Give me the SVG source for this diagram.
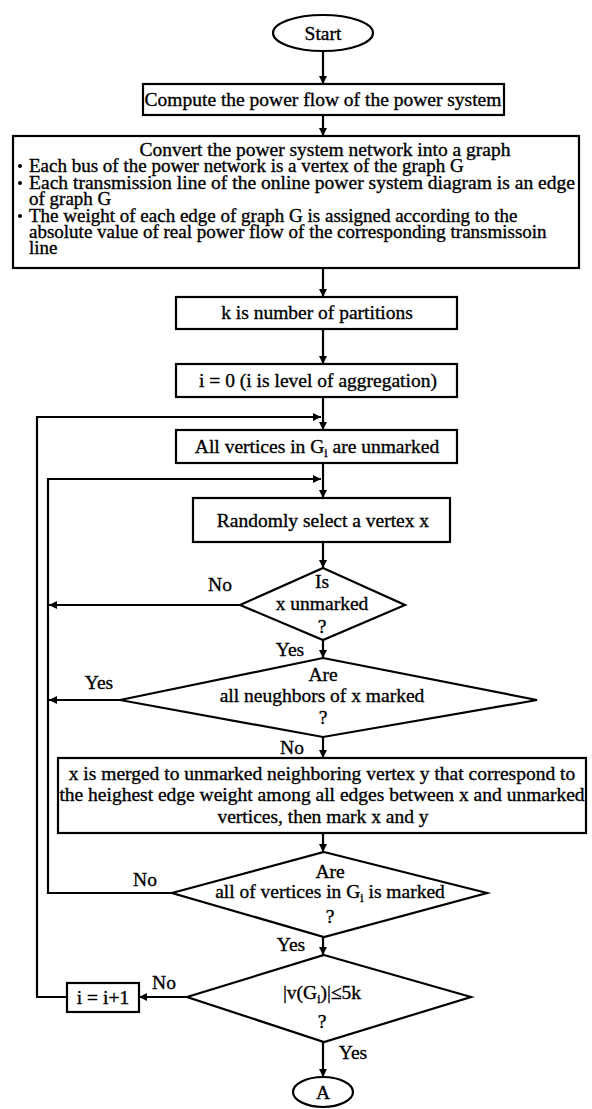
<svg xmlns="http://www.w3.org/2000/svg" width="592" height="1109" viewBox="0 0 592 1109">
<style>
text{font-family:"Liberation Serif","Times New Roman",serif;font-size:19.5px;fill:#000;stroke:#000;stroke-width:0.35}
.c{text-anchor:middle}
.sh{fill:#fff;stroke:#000;stroke-width:2.2}
.ln{fill:none;stroke:#000;stroke-width:2.2}
.sub{font-size:12px}
.bl{font-size:19px}
</style>
<defs>
<marker id="ah" viewBox="0 0 10 10" refX="10" refY="5" markerWidth="9" markerHeight="8" orient="auto" markerUnits="userSpaceOnUse">
<path d="M0,0 L10,5 L0,10 z" fill="#000"/>
</marker>
</defs>
<rect width="592" height="1109" fill="#fff"/>
<g id="connectors">
<path class="ln" marker-end="url(#ah)" d="M323,51 V84"/>
<path class="ln" marker-end="url(#ah)" d="M323,115 V136"/>
<path class="ln" marker-end="url(#ah)" d="M323,268 V297"/>
<path class="ln" marker-end="url(#ah)" d="M323,329 V364"/>
<path class="ln" marker-end="url(#ah)" d="M323,397 V430"/>
<path class="ln" marker-end="url(#ah)" d="M323,463 V498"/>
<path class="ln" marker-end="url(#ah)" d="M323,542 V568"/>
<path class="ln" marker-end="url(#ah)" d="M323,640 V658"/>
<path class="ln" marker-end="url(#ah)" d="M323,737 V758"/>
<path class="ln" marker-end="url(#ah)" d="M323,833 V852"/>
<path class="ln" marker-end="url(#ah)" d="M323,937 V955"/>
<path class="ln" marker-end="url(#ah)" d="M323,1042 V1077"/>
<path class="ln" marker-end="url(#ah)" d="M240,605 H49"/>
<path class="ln" marker-end="url(#ah)" d="M120,700 H49"/>
<path class="ln" marker-end="url(#ah)" d="M172,893 H48 V479 H321"/>
<path class="ln" marker-end="url(#ah)" d="M187,997 H139"/>
<path class="ln" marker-end="url(#ah)" d="M67,997 H37 V417 H321"/>
</g>
<g id="start">
<ellipse class="sh" cx="323" cy="33" rx="50" ry="18"/>
<text class="c" x="323" y="40">Start</text>
</g>
<g id="powerflow">
<rect class="sh" x="143" y="84" width="361" height="31"/>
<text class="c" x="323" y="106">Compute the power flow of the power system</text>
</g>
<g id="convert">
<rect class="sh" x="13" y="136" width="566" height="132"/>
<text class="c" x="325" y="156">Convert the power system network into a graph</text>
<circle cx="20" cy="166" r="2"/>
<text class="bl" x="29" y="172">Each bus of the power network is a vertex of the graph G</text>
<circle cx="20" cy="183" r="2"/>
<text class="bl" x="29" y="189" textLength="546" lengthAdjust="spacingAndGlyphs">Each transmission line of the online power system diagram is an edge</text>
<text class="bl" x="29" y="205">of graph G</text>
<circle cx="20" cy="216" r="2"/>
<text class="bl" x="29" y="222">The weight of each edge of graph G is assigned according to the</text>
<text class="bl" x="29" y="238">absolute value of real power flow of the corresponding transmissoin</text>
<text class="bl" x="29" y="254">line</text>
</g>
<g id="partitions">
<rect class="sh" x="176" y="297" width="281" height="32"/>
<text class="c" x="317" y="319">k is number of partitions</text>
</g>
<g id="init">
<rect class="sh" x="176" y="364" width="281" height="33"/>
<text class="c" x="318" y="387">i = 0 (i is level of aggregation)</text>
</g>
<g id="unmark">
<rect class="sh" x="176" y="430" width="281" height="33"/>
<text class="c" x="317" y="453">All vertices in G<tspan class="sub" dy="4">i</tspan><tspan dy="-4"> are unmarked</tspan></text>
</g>
<g id="select">
<rect class="sh" x="193" y="498" width="257" height="44"/>
<text class="c" x="323" y="527">Randomly select a vertex x</text>
</g>
<g id="d1">
<polygon class="sh" points="323,568 405,605 323,640 240,605"/>
<text class="c" x="322" y="588">Is</text>
<text class="c" x="322" y="610">x unmarked</text>
<text class="c" x="322" y="633">?</text>
</g>
<g id="d2">
<polygon class="sh" points="323,658 537,700 323,737 120,700"/>
<text class="c" x="323" y="681">Are</text>
<text class="c" x="322" y="702">all neughbors of x marked</text>
<text class="c" x="323" y="724">?</text>
</g>
<g id="merge">
<rect class="sh" x="58" y="758" width="528" height="75"/>
<text class="c" x="322" y="780">x is merged to unmarked neighboring vertex y that correspond to</text>
<text class="c" x="322" y="801">the heighest edge weight among all edges between x and unmarked</text>
<text class="c" x="323" y="823">vertices, then mark x and y</text>
</g>
<g id="d3">
<polygon class="sh" points="324,852 487,893 324,937 172,893"/>
<text class="c" x="330" y="878">Are</text>
<text class="c" x="330" y="898">all of vertices in G<tspan class="sub" dy="4">i</tspan><tspan dy="-4"> is marked</tspan></text>
<text class="c" x="330" y="923">?</text>
</g>
<g id="d4">
<polygon class="sh" points="324,955 471,997 324,1042 187,997"/>
<text class="c" x="322" y="999">|v(G<tspan class="sub" dy="4">i</tspan><tspan dy="-4">)|≤5k</tspan></text>
<text class="c" x="322" y="1028">?</text>
</g>
<g id="incr">
<rect class="sh" x="67" y="983" width="72" height="29"/>
<text class="c" x="103" y="1004">i = i+1</text>
</g>
<g id="endA">
<ellipse class="sh" cx="323" cy="1092" rx="30" ry="15"/>
<text class="c" x="323" y="1099">A</text>
</g>
<g id="labels">
<text class="c" x="220" y="591">No</text>
<text class="c" x="290" y="656">Yes</text>
<text class="c" x="99" y="689">Yes</text>
<text class="c" x="292" y="754">No</text>
<text class="c" x="145" y="886">No</text>
<text class="c" x="291" y="951">Yes</text>
<text class="c" x="164" y="989">No</text>
<text class="c" x="353" y="1059">Yes</text>
</g>
</svg>
